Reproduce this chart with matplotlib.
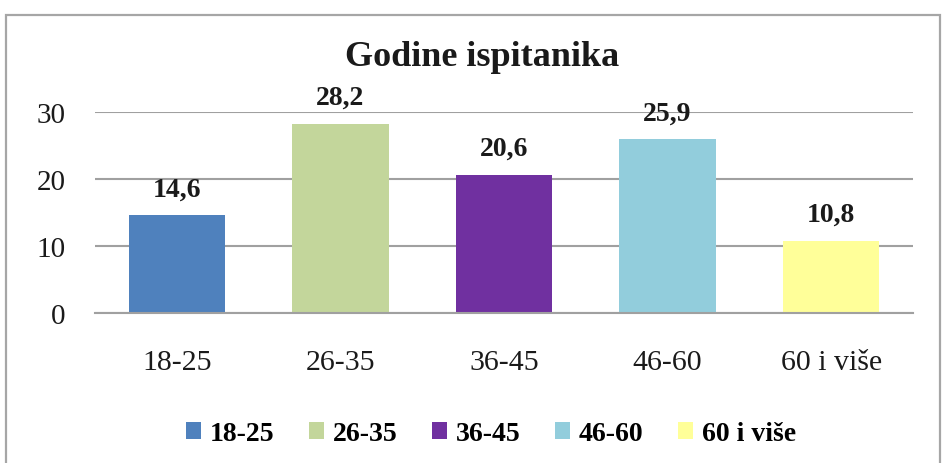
import matplotlib
matplotlib.use("Agg")
import matplotlib.pyplot as plt
from matplotlib.patches import Rectangle, Patch

categories = ["18-25", "26-35", "36-45", "46-60", "60 i više"]
values = [14.6, 28.2, 20.6, 25.9, 10.8]
labels = ["14,6", "28,2", "20,6", "25,9", "10,8"]
colors = ["#4f81bd", "#c3d69b", "#7030a0", "#92cddc", "#ffff99"]
yticks = [0, 10, 20, 30]

plt.rcParams['font.family'] = ['Liberation Serif', 'DejaVu Serif']

fig = plt.figure(figsize=(9.44, 4.64), dpi=100)
fig.patches.append(Rectangle((6/944, -0.1), (940-6)/944, 1.1 - 16/464,
                             transform=fig.transFigure, fill=False,
                             edgecolor="#a6a6a6", linewidth=1.6))
ax = fig.add_axes([95/944, 1 - 314/464, (913-95)/944, (314-113)/464])
x = range(len(categories))
bars = ax.bar(x, values, width=0.59, color=colors, zorder=3)
for xi, v, lab in zip(x, values, labels):
    ax.annotate(lab, (xi, v), xytext=(0, 14), textcoords="offset pixels",
                ha="center", va="bottom", fontsize=20,
                fontweight="bold", color="#1a1a1a", annotation_clip=False)
ax.set_ylim(0, 30)
ax.set_xlim(-0.5, 4.5)
ax.set_yticks(yticks)
ax.set_yticklabels([str(t) for t in yticks], fontsize=21, color="#1a1a1a")
ax.set_xticks(list(x))
ax.set_xticklabels(categories, fontsize=21.5, color="#1a1a1a")
ax.tick_params(axis="both", length=0)
ax.tick_params(axis="y", pad=21)
ax.tick_params(axis="x", pad=26)
ax.yaxis.grid(True, color="#a0a0a0", linewidth=1.5, zorder=0)
for s in ["top", "right", "left"]:
    ax.spines[s].set_visible(False)
ax.spines["bottom"].set_color("#a0a0a0")
ax.spines["bottom"].set_linewidth(1.5)
ax.spines["bottom"].set_zorder(4)

fig.text(482/944, 1 - 58/464, "Godine ispitanika", ha="center", va="center",
         fontsize=26, fontweight="bold", color="#1a1a1a")

handles = [Patch(facecolor=c, edgecolor="none") for c in colors]
fig.legend(handles, categories, loc="center", bbox_to_anchor=(491/944, 1 - 435/464),
           ncol=5, frameon=False, prop={"size": 20, "weight": "bold"},
           handlelength=0.55, handleheight=0.55, handletextpad=0.3, columnspacing=1.25)

fig.savefig("out.png", dpi=100)
